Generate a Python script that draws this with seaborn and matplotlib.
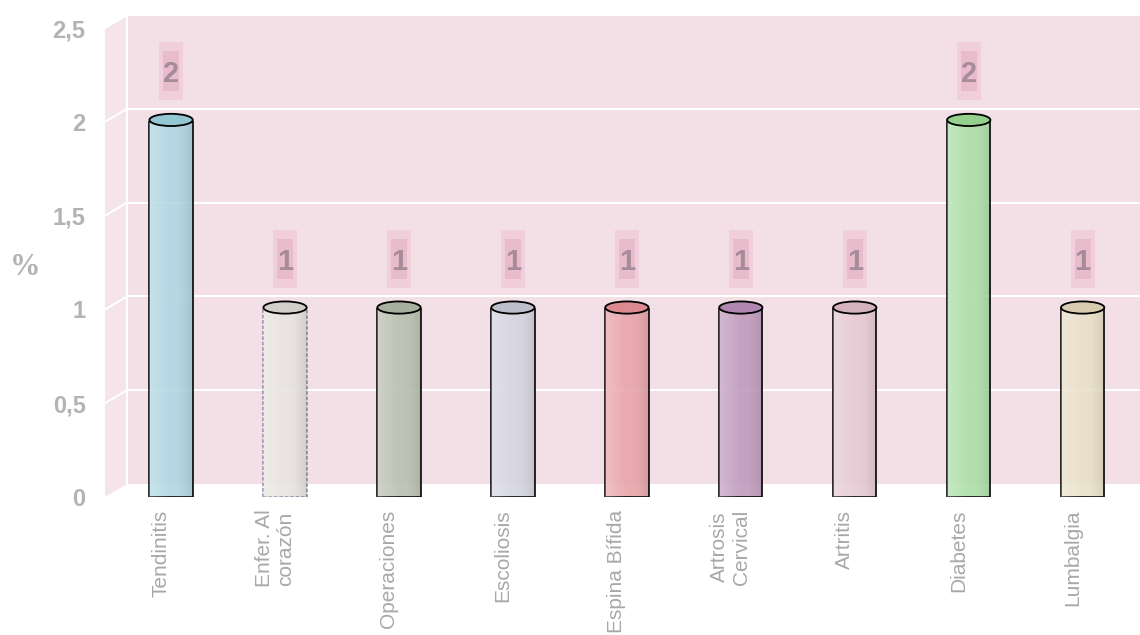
import numpy as np
import pandas as pd
import matplotlib
matplotlib.use('Agg')
import matplotlib.pyplot as plt
from matplotlib.patches import Rectangle, Polygon, Ellipse
from matplotlib.transforms import ScaledTranslation
from matplotlib.colors import LinearSegmentedColormap, to_rgb
import seaborn as sns

# datos
categorias = ['Tendinitis', 'Enfer. Al\ncorazón', 'Operaciones', 'Escoliosis', 'Espina Bífida',
              'Artrosis\nCervical', 'Artritis', 'Diabetes', 'Lumbalgia']
valores = [2, 1, 1, 1, 1, 1, 1, 2, 1]
colores = ['#a6dcec', '#e9e5e0', '#b9c3ad', '#d3d3e3', '#f3999f',
           '#c595c3', '#eac6d3', '#a3e89d', '#efe3c3']
ticks_y = [0, 0.5, 1, 1.5, 2, 2.5]
etiquetas_y = ['0', '0,5', '1', '1,5', '2', '2,5']

df = pd.DataFrame({'categoria': categorias, 'valor': valores})

plt.rcParams['font.family'] = ['Liberation Sans', 'DejaVu Sans']

fig = plt.figure(figsize=(11.4, 6.35), dpi=100)
ax = fig.add_axes([0.0921, 0.2173, 0.8886, 0.7386])
ax.set_facecolor('none')

sns.barplot(data=df, x='categoria', y='valor', hue='categoria', palette=colores,
            width=0.38, edgecolor='black', linewidth=1.3, alpha=0.9,
            legend=False, ax=ax, zorder=2)
barras = list(ax.patches)

# gradiente tipo cilindro
sombra = LinearSegmentedColormap.from_list('sombra', [(1, 1, 1, 0.25), (1, 1, 1, 0.0), (0, 0, 0, 0.1)])
grad = np.linspace(0, 1, 64).reshape(1, -1)
for i, bar in enumerate(barras):
    x, w, h = bar.get_x(), bar.get_width(), bar.get_height()
    im = ax.imshow(grad, cmap=sombra, extent=(x, x + w, 0, h), aspect='auto', zorder=2.1)
    im.set_clip_path(bar)
    tapa = tuple(c * 0.9 for c in to_rgb(colores[i]))
    ax.add_patch(Ellipse((x + w / 2, h + 0.01), w, 0.065, facecolor=tapa, edgecolor='black',
                         linewidth=1.3, zorder=3))

# el corazón va con borde punteado
barras[1].set_edgecolor('#8c8ca8')
barras[1].set_linestyle((0, (2, 1)))

ax.set_xlim(-0.58, 8.31)
ax.set_ylim(0, 2.5)
x0, x1 = ax.get_xlim()

# paredes en perspectiva
ddx, ddy = 0.193, 0.069
ax.add_patch(Rectangle((x0 + ddx, ddy), x1 - x0, 2.5, facecolor='#f3dfe6', edgecolor='none',
                       zorder=0, clip_on=False))
ax.add_patch(Polygon([(x0, 0), (x0, 2.5), (x0 + ddx, 2.5 + ddy), (x0 + ddx, ddy)],
                     facecolor='#f5e5eb', edgecolor='none', zorder=0, clip_on=False))
for t in ticks_y[1:]:
    ax.plot([x0 + ddx, x1 + ddx], [t + ddy, t + ddy], color='white', lw=1.5, zorder=0.5, clip_on=False)
    ax.plot([x0, x0 + ddx], [t, t + ddy], color='white', lw=1.5, zorder=0.5, clip_on=False)
ax.plot([x0 + ddx, x0 + ddx], [ddy, 2.5 + ddy], color='white', lw=1.5, zorder=0.5, clip_on=False)

# etiquetas de valor
for i, v in enumerate(valores):
    pos = ScaledTranslation(i, v + 0.27, ax.transData)
    ax.add_patch(Rectangle((-0.12, -0.29), 0.24, 0.58, transform=fig.dpi_scale_trans + pos,
                           facecolor='#f0cfda', edgecolor='none', zorder=4, clip_on=False))
    ax.add_patch(Rectangle((-0.08, -0.2), 0.16, 0.40, transform=fig.dpi_scale_trans + pos,
                           facecolor='#e8bccb', edgecolor='none', zorder=4.5, clip_on=False))
    ax.text(i, v + 0.27, str(v), ha='center', va='center_baseline', fontsize=21,
            fontweight='bold', color='#a68b9a', zorder=5)

# ejes
for s in ax.spines.values():
    s.set_visible(False)
ax.set_yticks(ticks_y)
ax.set_yticklabels(etiquetas_y, fontsize=17, fontweight='bold', color='#b3b3b3')
ax.tick_params(axis='y', length=0, pad=14)
ax.tick_params(axis='x', length=0, pad=9, labelsize=15, labelcolor='#a8a8a8', rotation=90)
for lab in ax.get_xticklabels():
    lab.set_verticalalignment('top')
    lab.set_transform(lab.get_transform() + ScaledTranslation(-0.1, 0, fig.dpi_scale_trans))
ax.set_xlabel('')
ax.set_ylabel('%', rotation=0, fontsize=22, fontweight='bold', color='#b3b3b3',
              family=['Liberation Serif', 'DejaVu Serif'], va='center', ha='center')
ax.yaxis.set_label_coords(-0.0786, 0.49)

fig.savefig('out.png', dpi=100)
